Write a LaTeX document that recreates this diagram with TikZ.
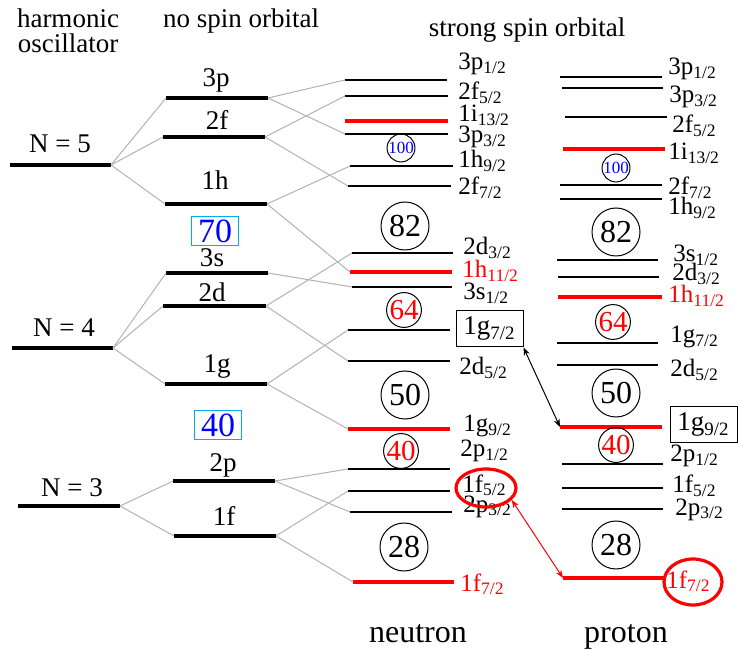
\documentclass[tikz,border=0pt]{standalone}
\usepackage{fontspec}
\setmainfont{Liberation Serif}
\usetikzlibrary{arrows.meta,shapes.geometric}
\newcommand{\lv}[2]{#1\textsubscript{#2}}

\begin{document}
\begin{tikzpicture}[x=0.5pt,y=-0.5pt,
    hlev/.style={line width=1.6pt},
    slev/.style={line width=1pt},
    rlev/.style={line width=1.6pt,red},
    link/.style={gray!60,line width=0.5pt},
    head/.style={font=\fontsize{13.5}{15}\selectfont,inner sep=0pt,anchor=base},
    lab/.style={font=\fontsize{12.5}{15}\selectfont,inner sep=0pt,anchor=base west},
    magic/.style={circle,draw,line width=0.5pt,inner sep=0pt,minimum size=24pt,font=\fontsize{16}{18}\selectfont},
    smagic/.style={magic,minimum size=17pt,text=red,font=\fontsize{14.5}{16}\selectfont},
    tmagic/.style={magic,minimum size=13pt,text=blue,font=\fontsize{8.5}{10}\selectfont},
    shell/.style={draw=cyan,text=blue,line width=0.5pt,inner sep=0pt,minimum width=23.5pt,minimum height=14.5pt,font=\fontsize{17}{19}\selectfont},
    boxed/.style={draw,line width=0.5pt,inner sep=0pt,minimum width=33.5pt,minimum height=18pt,font=\fontsize{13.5}{16}\selectfont},
    ring/.style={ellipse,draw=red,line width=1.6pt,inner sep=0pt},
    >={Stealth[length=4pt,width=3pt]}]

\useasboundingbox (0,0) rectangle (738,651);

% headers
\node[head] (hoa) at (68,28) {harmonic};
\node[head] (hob) at (68,53) {oscillator};
\node[head] (nso) at (241,28) {no spin orbital};
\node[head] (sso) at (527,37) {strong spin orbital};

% harmonic oscillator
\foreach \n/\a/\b/\y/\lx/\ly in {5/10/111/165/60/153, 4/12/113/348/64/337, 3/18/120/506/72/496}{
  \coordinate (N\n L) at (\a,\y);
  \coordinate (N\n R) at (\b,\y);
  \draw[hlev] (N\n L) -- (N\n R);
  \node[head] (tN\n) at (\lx,\ly) {N = \n};
}

% no spin orbital
\foreach \n/\a/\b/\y/\lx/\ly in {3p/166/268/98/216/87, 2f/163/265/137/217/130, 1h/165/267/204/215/190,
    3s/166/268/273/212/267, 2d/163/266/306/212/302, 1g/165/267/384/217/373,
    2p/173/275/481/223/472, 1f/174/276/536/224/525}{
  \coordinate (o\n L) at (\a,\y);
  \coordinate (o\n R) at (\b,\y);
  \draw[hlev] (o\n L) -- (o\n R);
  \node[head] (to\n) at (\lx,\ly) {\n};
}

% strong spin orbital: neutron
\foreach \o/\s/\a/\b/\y/\lx/\ly/\st/\c in {3p/1/345/447/80/458/70/slev/black,
    2f/5/345/448/96/458/100/slev/black, 1i/13/345/448/121/458/122/rlev/black,
    3p/3/345/448/134/458/143/slev/black, 1h/9/350/453/166/458/168/slev/black,
    2f/7/348/451/186/458/195/slev/black, 2d/3/352/453/253/463/255/slev/black,
    1h/11/350/452/272/462/278/rlev/red, 3s/1/352/452/287/463/300/slev/black,
    2d/5/348/450/361/459/375/slev/black, 1g/9/348/450/429/463/432/rlev/black,
    2p/1/348/450/469/460/457/slev/black, 1f/5/348/450/491/462/492/slev/black,
    2p/3/350/452/512/463/512/slev/black, 1f/7/353/454/582/460/591/rlev/red}{
  \coordinate (n\o\s L) at (\a,\y);
  \coordinate (n\o\s R) at (\b,\y);
  \draw[\st] (n\o\s L) -- (n\o\s R);
  \node[lab,text=\c] (tn\o\s) at (\lx,\ly) {\lv{\o}{\s/2}};
}
\coordinate (n1g7L) at (348,330);
\coordinate (n1g7R) at (450,330);
\draw[slev] (n1g7L) -- (n1g7R);
\node[boxed] (bn1g7) at (489.5,329) {\lv{1g}{7/2}};

% strong spin orbital: proton
\foreach \o/\s/\a/\b/\y/\lx/\ly/\st/\c in {3p/1/560/662/77/668/75/slev/black,
    3p/3/562/663/88/669/103/slev/black, 2f/5/565/667/117/672/133/slev/black,
    1i/13/563/665/149/668/160/rlev/black, 2f/7/560/662/185/668/195/slev/black,
    1h/9/560/662/199/668/215/slev/black, 3s/1/557/658/260/673/262/slev/black,
    2d/3/558/659/277/672/281/slev/black, 1h/11/558/662/297/668/303/rlev/red,
    1g/7/557/658/343/670/343/slev/black, 2d/5/557/658/365/670/377/slev/black,
    2p/1/562/663/464/670/462/slev/black, 1f/5/562/663/488/672/493/slev/black,
    2p/3/562/663/509/675/515/slev/black, 1f/7/563/665/578/666/588/rlev/red}{
  \coordinate (p\o\s L) at (\a,\y);
  \coordinate (p\o\s R) at (\b,\y);
  \draw[\st] (p\o\s L) -- (p\o\s R);
  \node[lab,text=\c] (tp\o\s) at (\lx,\ly) {\lv{\o}{\s/2}};
}
\coordinate (p1g9L) at (560,427);
\coordinate (p1g9R) at (662,427);
\draw[rlev] (p1g9L) -- (p1g9R);
\node[boxed] (bp1g9) at (703.5,425) {\lv{1g}{9/2}};

% splitting lines
\foreach \a/\b in {N5R/o3pL, N5R/o2fL, N5R/o1hL, N4R/o3sL, N4R/o2dL, N4R/o1gL, N3R/o2pL, N3R/o1fL,
    o3pR/n3p1L, o3pR/n3p3L, o2fR/n2f5L, o2fR/n2f7L, o1hR/n1h9L, o1hR/n1h11L,
    o3sR/n3s1L, o2dR/n2d3L, o2dR/n2d5L, o1gR/n1g7L, o1gR/n1g9L,
    o2pR/n2p1L, o2pR/n2p3L, o1fR/n1f5L, o1fR/n1f7L}
  \draw[link] (\a) -- (\b);

% magic numbers
\node[shell] (s70) at (215,231) {70};
\node[shell] (s40) at (218,425) {40};
\node[tmagic] (n100) at (401,148) {100};
\node[magic] (n82) at (405,226) {82};
\node[smagic] (n64) at (404,310) {64};
\node[magic] (n50) at (405,395) {50};
\node[smagic] (n40) at (401,451) {40};
\node[magic] (n28) at (404,547) {28};
\node[tmagic] (p100) at (616,168) {100};
\node[magic] (p82) at (616,232) {82};
\node[smagic] (p64) at (613,322) {64};
\node[magic] (p50) at (616,393) {50};
\node[smagic] (p40) at (616,445) {40};
\node[magic] (p28) at (616,545) {28};

% marked levels
\node[ring,minimum width=30pt,minimum height=19pt] (rn1f5) at (486,488) {};
\node[ring,minimum width=29pt,minimum height=23pt] (rp1f7) at (693,582) {};
\draw[<->,line width=0.5pt] (bn1g7.south east) -- (p1g9L);
\draw[<->,red,line width=0.5pt] (rn1f5.-25) -- (p1f7L);

\node[font=\fontsize{16}{18}\selectfont,anchor=base] (neu) at (418,642) {neutron};
\node[font=\fontsize{16}{18}\selectfont,anchor=base] (pro) at (626,642) {proton};
\end{tikzpicture}
\end{document}
